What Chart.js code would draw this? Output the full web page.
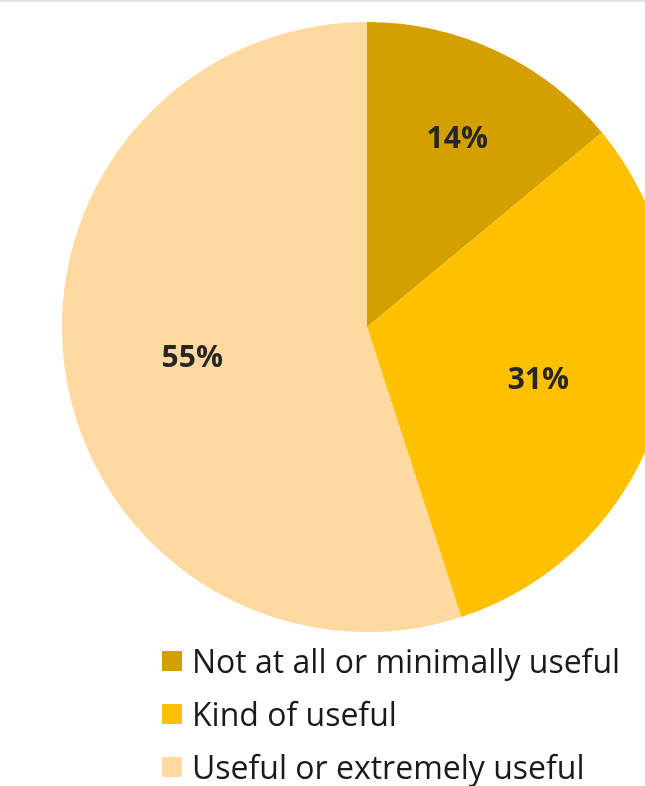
<!DOCTYPE html>
<html>
<head>
<meta charset="utf-8">
<script src="https://cdn.jsdelivr.net/npm/chart.js@4.4.0/dist/chart.umd.min.js"></script>
<style>
  html, body { margin: 0; padding: 0; background: #fff; overflow: hidden; }
  body { width: 645px; height: 786px; position: relative; border-top: 2px solid #dfe2e6; box-sizing: border-box; }
  #wrap { position: absolute; left: 0; top: -2px; width: 734px; height: 650px; }
  #legend { position: absolute; left: 162px; top: 632px; font-family: "Open Sans", sans-serif; font-size: 32px; color: #1a1a1a; }
  .item { height: 53px; display: flex; align-items: center; white-space: nowrap; }
  .box { width: 20px; height: 20px; margin-right: 10px; flex: none; }
</style>
</head>
<body>
<div id="wrap"><canvas id="pie"></canvas></div>
<div id="legend"></div>
<script>
const labels = ['Not at all or minimally useful', 'Kind of useful', 'Useful or extremely useful'];
const values = [14, 31, 55];
const colors = ['#D3A000', '#FFC000', '#FFD9A0'];

// pie labels: put the percentage text inside each slice
const sliceLabels = {
    id: 'sliceLabels',
    afterDatasetsDraw(chart, args, opts) {
        const ctx = chart.ctx;
        const meta = chart.getDatasetMeta(0);
        ctx.save();
        ctx.font = 'bold 30px "Open Sans", sans-serif';
        ctx.fillStyle = '#262626';
        ctx.textAlign = 'center';
        ctx.textBaseline = 'middle';
        meta.data.forEach((arc, i) => {
            const mid = (arc.startAngle + arc.endAngle) / 2;
            const r = arc.outerRadius * opts.dist[i];
            ctx.fillText(values[i] + '%', arc.x + Math.cos(mid) * r, arc.y + Math.sin(mid) * r + 4);
        });
        ctx.restore();
    }
};

new Chart(document.getElementById('pie'), {
    type: 'pie',
    data: {
        labels: labels,
        datasets: [{
            data: values,
            backgroundColor: colors,
            borderWidth: 0
        }]
    },
    options: {
        responsive: true,
        maintainAspectRatio: false,
        animation: false,
        layout: { padding: { top: 22, bottom: 18 } },
        plugins: {
            legend: { display: false },
            tooltip: { enabled: false },
            sliceLabels: { dist: [0.695, 0.585, 0.58] }
        }
    },
    plugins: [sliceLabels]
});

// legend (vertical, below the pie)
const legendEl = document.getElementById('legend');
labels.forEach((lab, i) => {
    const row = document.createElement('div');
    row.className = 'item';
    row.innerHTML = '<span class="box" style="background:' + colors[i] + '"></span><span>' + lab + '</span>';
    legendEl.appendChild(row);
});
</script>
</body>
</html>
